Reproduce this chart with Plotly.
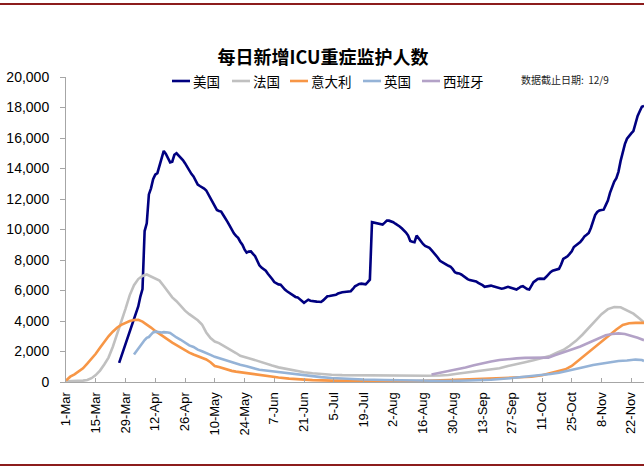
import pandas as pd
import plotly.graph_objects as go

# ---------------- data ----------------
start_date = "2020-03-01"

tick_labels = ["1-Mar", "15-Mar", "29-Mar", "12-Apr", "26-Apr", "10-May", "24-May",
               "7-Jun", "21-Jun", "5-Jul", "19-Jul", "2-Aug", "16-Aug", "30-Aug",
               "13-Sep", "27-Sep", "11-Oct", "25-Oct", "8-Nov", "22-Nov"]
tick_days = [0, 14, 28, 42, 56, 70, 84, 98, 112, 126, 140, 154, 168, 182,
             196, 210, 224, 238, 252, 266]

# USA: daily values starting at day 25 (26-Mar)
us_first_day = 25
us_values = [
    1250, 1650, 2050, 2400, 2800, 3200, 3650, 4050, 4500, 4950,
    5600, 6100, 9900, 10400, 12300, 12700, 13300, 13600, 13700, 14200,
    14700, 15150, 14950, 14700, 14400, 14450, 14900, 15000, 14850, 14750,
    14550, 14350, 14100, 13800, 13650, 13480, 13200, 12950, 12850, 12780,
    12680, 12560, 12300, 12050, 11700, 11450, 11280, 11220, 11180, 10950,
    10750, 10500, 10250, 9950, 9750, 9580, 9450, 9200, 9000, 8700,
    8480, 8550, 8560, 8400, 8250, 7950, 7650, 7500, 7380, 7300,
    7100, 6950, 6750, 6550, 6450, 6400, 6380, 6200, 6060, 5950,
    5850, 5730, 5650, 5580, 5550, 5420, 5300, 5190, 5300, 5400,
    5330, 5300, 5290, 5270, 5260, 5250, 5350, 5480, 5620, 5640,
    5660, 5690, 5720, 5800, 5860, 5880, 5900, 5920, 5940, 5950,
    6100, 6280, 6350, 6430, 6450, 6400, 6400, 6550, 6710, 10480,
    10450, 10420, 10400, 10370, 10330, 10450, 10580, 10580, 10550, 10480,
    10380, 10300, 10200, 10080, 9950, 9800, 9600, 9250, 9200, 9170,
    9600, 9400, 9220, 9050, 8920, 8850, 8800, 8650, 8500, 8350,
    8150, 7950, 7880, 7820, 7700, 7620, 7560, 7400, 7200, 7140,
    7120, 7050, 6930, 6820, 6750, 6680, 6660, 6650, 6600, 6500,
    6440, 6350, 6240, 6270, 6300, 6320, 6280, 6240, 6180, 6150,
    6120, 6150, 6200, 6240, 6200, 6170, 6120, 6060, 6150, 6250,
    6280, 6170, 6100, 6060, 6350, 6550, 6650, 6750, 6780, 6770,
    6760, 6900, 7080, 7200, 7300, 7350, 7400, 7420, 7700, 8070,
    8150, 8240, 8400, 8570, 8850, 8950, 9080, 9180, 9350, 9550,
    9650, 9770, 10100, 10600, 10950, 11150, 11250, 11280, 11300, 11600,
    11900, 12400, 12850, 13150, 13370, 13800, 14500, 15100, 15600, 15950,
    16150, 16300, 16450, 17000, 17450, 17750, 18050, 18110,
]

fr_days = [0, 4, 8, 10, 12, 14, 16, 18, 20, 22, 24, 26, 28, 30, 32, 34, 36, 38,
           40, 42, 44, 46, 48, 50, 52, 54, 56, 58, 60, 62, 64, 66, 68, 70, 72,
           74, 76, 78, 80, 82, 84, 86, 88, 90, 92, 94, 97, 100, 104, 108, 112,
           116, 120, 125, 130, 140, 150, 160, 170, 176, 180, 184, 188, 192, 196,
           200, 204, 208, 212, 216, 220, 224, 228, 231, 234, 237, 240, 243, 246,
           249, 252, 255, 258, 261, 264, 267, 270, 272]
fr_values = [50, 60, 90, 130, 250, 450, 750, 1150, 1600, 2300, 3100, 3900, 4800,
             5700, 6350, 6750, 6950, 7050, 6900, 6750, 6650, 6300, 5900, 5550,
             5300, 4970, 4680, 4450, 4250, 4050, 3770, 3250, 2880, 2650, 2550,
             2400, 2250, 2080, 1900, 1720, 1620, 1560, 1480, 1380, 1300, 1200,
             1080, 960, 840, 730, 640, 570, 520, 480, 450, 430, 430, 420, 410,
             430, 460, 540, 620, 690, 760, 830, 900, 1050, 1200, 1300, 1420,
             1550, 1720, 1920, 2100, 2380, 2700, 3100, 3550, 4000, 4450, 4780,
             4920, 4900, 4680, 4480, 4150, 3900]

it_days = [0, 2, 4, 6, 8, 10, 12, 14, 16, 18, 20, 22, 24, 26, 28, 30, 32, 34,
           36, 38, 40, 42, 44, 46, 48, 50, 52, 54, 56, 58, 60, 62, 64, 66, 68,
           70, 72, 74, 76, 78, 80, 83, 86, 89, 92, 96, 100, 105, 110, 116, 125,
           135, 150, 165, 180, 195, 211, 219, 224, 230, 235, 238, 241, 244, 247,
           250, 253, 256, 259, 262, 265, 268, 272]
it_values = [100, 350, 500, 680, 900, 1200, 1500, 1850, 2250, 2650, 3000, 3300,
             3560, 3750, 3890, 4000, 4070, 4080, 3960, 3780, 3570, 3350, 3150,
             2950, 2740, 2580, 2420, 2250, 2080, 1930, 1800, 1680, 1570, 1480,
             1300, 1050, 980, 890, 820, 730, 680, 620, 550, 500, 440, 380, 290,
             220, 170, 120, 90, 70, 60, 60, 120, 200, 270, 340, 440, 640, 830,
             1050, 1400, 1700, 2050, 2420, 2750, 3100, 3440, 3740, 3850, 3880,
             3880]

uk_days = [32, 33, 34, 35, 36, 37, 38, 39, 40, 41, 42, 43, 44, 45, 46, 47, 48,
           49, 50, 52, 54, 56, 58, 60, 62, 64, 66, 68, 70, 72, 74, 76, 78, 80,
           82, 85, 88, 91, 95, 100, 105, 110, 115, 120, 125, 130, 140, 150, 160,
           170, 180, 190, 200, 210, 216, 222, 228, 232, 236, 240, 244, 248, 252,
           256, 260, 264, 268, 271, 272]
uk_values = [1800, 2000, 2200, 2400, 2600, 2750, 2900, 2950, 3100, 3250, 3300,
             3280, 3260, 3250, 3270, 3280, 3250, 3220, 3100, 2920, 2770, 2600,
             2400, 2300, 2120, 2020, 1920, 1780, 1650, 1560, 1470, 1370, 1280,
             1200, 1130, 1030, 930, 800, 740, 650, 560, 470, 390, 320, 260, 220,
             160, 130, 110, 80, 70, 100, 150, 260, 340, 420, 520, 610, 720, 840,
             990, 1120, 1210, 1300, 1380, 1410, 1470, 1440, 1380]

es_days = [172, 176, 180, 184, 188, 192, 196, 200, 204, 208, 212, 216, 220, 224,
           227, 230, 233, 236, 239, 242, 245, 248, 251, 254, 257, 260, 263, 266,
           269, 272]
es_values = [490, 600, 720, 830, 950, 1100, 1230, 1350, 1440, 1510, 1550, 1580,
             1590, 1560, 1600, 1750, 1880, 2020, 2180, 2330, 2520, 2720, 2900,
             3060, 3150, 3190, 3150, 3050, 2900, 2740]

series_names = ["美国", "法国", "意大利", "英国", "西班牙"]
series_colors = ["#000080", "#C0C0C0", "#F79646", "#95B3D7", "#B3A2C7"]

# ---------------- layout geometry (pixels) ----------------
W, H = 644, 468
PL, PR, PT, PB = 66, 0, 77, 86          # plot-area margins
PW, PH = W - PL - PR, H - PT - PB


def fx(px):   # pixel x -> paper x
    return (px - PL) / PW


def fy(py):   # pixel y -> paper y
    return (H - PB - py) / PH


# legend entry left edges (line start) in pixels
legend_x = [172, 232, 290, 363, 422]
legend_y = 81

# ---------------- figure ----------------
t0 = pd.Timestamp(start_date)


def to_dates(days):
    return [t0 + pd.Timedelta(days=int(d)) for d in days]


us_days = list(range(us_first_day, us_first_day + len(us_values)))
all_series = [
    (us_days, us_values),
    (fr_days, fr_values),
    (it_days, it_values),
    (uk_days, uk_values),
    (es_days, es_values),
]

fig = go.Figure()
for (days, vals), name, color in zip(all_series, series_names, series_colors):
    fig.add_trace(go.Scatter(
        x=to_dates(days), y=vals, name=name, mode="lines",
        line=dict(color=color, width=2.6), hoverinfo="skip", showlegend=False,
    ))

axis_color = "#A6A6A6"
fig.update_layout(
    width=W, height=H,
    margin=dict(l=PL, r=PR, t=PT, b=PB, autoexpand=False),
    paper_bgcolor="white", plot_bgcolor="white",
    font=dict(family="Liberation Sans, Arial, sans-serif", color="black"),
    title=dict(
        text="<b>每日新增ICU重症监护人数</b>",
        font=dict(family="Noto Sans CJK SC", size=18, color="black"),
        x=323 / W, xref="container", xanchor="center",
        y=1 - 58 / H, yref="container", yanchor="middle",
    ),
    showlegend=False,
    xaxis=dict(
        type="date",
        range=[t0, t0 + pd.Timedelta(days=272)],
        tickvals=to_dates(tick_days), ticktext=tick_labels,
        tickangle=-90, tickfont=dict(size=13),
        showgrid=False, zeroline=False,
        showline=True, linecolor=axis_color, linewidth=1,
        ticks="inside", ticklen=4, tickcolor=axis_color,
        ticklabelstandoff=4,
    ),
    yaxis=dict(
        range=[0, 20000], dtick=2000, tickformat=",d",
        tickfont=dict(size=14),
        showgrid=False, zeroline=False,
        showline=True, linecolor=axis_color, linewidth=1,
        ticks="outside", ticklen=5, tickcolor=axis_color,
        ticklabelstandoff=8,
    ),
)

# legend drawn as short line samples + labels
for name, color, lx in zip(series_names, series_colors, legend_x):
    fig.add_shape(type="line", xref="paper", yref="paper",
                  x0=fx(lx), x1=fx(lx + 18), y0=fy(legend_y), y1=fy(legend_y),
                  line=dict(color=color, width=2.6))
    fig.add_annotation(text=name, xref="paper", yref="paper",
                       x=fx(lx + 19), y=fy(legend_y), xanchor="left",
                       yanchor="middle", showarrow=False,
                       font=dict(family="Noto Sans CJK SC", size=13.5,
                                 color="black"))

fig.add_annotation(
    text="数据截止日期:  12/9", xref="paper", yref="paper",
    x=fx(565), y=fy(79), xanchor="center", yanchor="middle", showarrow=False,
    font=dict(family="Noto Sans CJK SC", size=10, color="#222222"),
)

# report frame lines (top and bottom)
for py in (4, 465):
    fig.add_shape(type="line", xref="paper", yref="paper",
                  x0=fx(0), x1=fx(W), y0=fy(py), y1=fy(py),
                  line=dict(color="#8C1C1C", width=2))

fig.write_html("out.html",
               config={"displayModeBar": False, "staticPlot": True},
               post_script="document.body.style.margin='0';"
                           "document.body.style.padding='0';")
